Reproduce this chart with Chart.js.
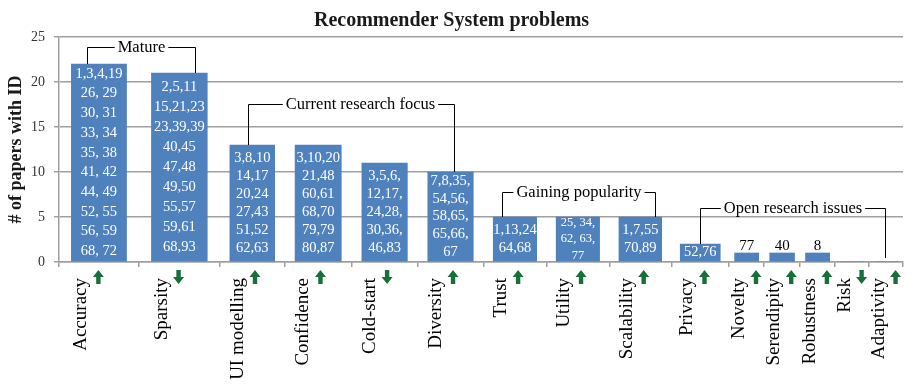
<!DOCTYPE html>
<html>
<head>
<meta charset="utf-8">
<script src="https://cdn.jsdelivr.net/npm/chart.js@4.4.0/dist/chart.umd.min.js"></script>
<style>
  html, body { margin: 0; padding: 0; background: #fff; }
</style>
</head>
<body>
<canvas id="myChart" width="917" height="389"></canvas>
<script>
const categories = ['Accuracy', 'Sparsity', 'UI modelling', 'Confidence', 'Cold-start', 'Diversity', 'Trust',
  'Utility', 'Scalability', 'Privacy', 'Novelty', 'Serendipity', 'Robustness', 'Risk', 'Adaptivity'];
const paperCounts = [22, 21, 13, 13, 11, 10, 5, 5, 5, 2, 1, 1, 1, 0, 0];
const paperIds = [
  ['1,3,4,19', '26, 29', '30, 31', '33, 34', '35, 38', '41, 42', '44, 49', '52, 55', '56, 59', '68, 72'],
  ['2,5,11', '15,21,23', '23,39,39', '40,45', '47,48', '49,50', '55,57', '59,61', '68,93'],
  ['3,8,10', '14,17', '20,24', '27,43', '51,52', '62,63'],
  ['3,10,20', '21,48', '60,61', '68,70', '79,79', '80,87'],
  ['3,5,6,', '12,17,', '24,28,', '30,36,', '46,83'],
  ['7,8,35,', '54,56,', '58,65,', '65,66,', '67'],
  ['1,13,24', '64,68'],
  ['25, 34,', '62, 63,', '77'],
  ['1,7,55', '70,89'],
  ['52,76'],
  ['77'],
  ['40'],
  ['8'],
  [],
  []
];
const trend = ['up', 'down', 'up', 'up', 'down', 'up', 'up', 'up', 'up', 'up', 'up', 'up', 'up', 'down', 'up'];
const groupNames = ['Mature', 'Current research focus', 'Gaining popularity', 'Open research issues'];
const groupFirst = [0, 2, 6, 9];
const groupLast = [1, 5, 8, 14];

// layout only: the slots are not all the same width in the original
const slotWidths = [80, 81, 65, 67, 66, 66, 63, 63, 62, 58, 35, 36, 35, 34, 34];
const barShare = 0.69;
const bracketLevel = [23.9, 17.55, 7.8, 6.0];
const bracketFrom = [0.28, 0.4, 0.2, 0.5];
const bracketTo = [0.78, 0.58, 0.84, 0.45];
const bracketShift = [0, 9, 0, 0];

const serif = "'Liberation Serif', 'Times New Roman', serif";
const gridColor = '#a0a0a0';

const edges = [0];
slotWidths.forEach(w => edges.push(edges[edges.length - 1] + w));
const total = edges[edges.length - 1];
const centers = slotWidths.map((w, i) => edges[i] + w / 2);
const labelPos = slotWidths.map((w, i) => centers[i] - 0.22 * w);

const datasets = categories.map((c, i) => ({
  label: c,
  data: [{x: centers[i], y: paperCounts[i]}],
  backgroundColor: '#4f81bd',
  borderWidth: 0,
  grouped: false,
  barThickness: 10   // real width is set after layout
}));

const extras = {
  id: 'extras',
  afterLayout(chart) {
    const x = chart.scales.x;
    chart.data.datasets.forEach((ds, i) => {
      ds.barThickness = (x.getPixelForValue(slotWidths[i]) - x.getPixelForValue(0)) * barShare;
    });
  },
  afterDatasetsDraw(chart) {
    const ctx = chart.ctx;
    const y = chart.scales.y;
    ctx.save();
    ctx.textAlign = 'center';
    ctx.textBaseline = 'middle';

    // paper ids written in the bars
    chart.data.datasets.forEach((ds, i) => {
      const bar = chart.getDatasetMeta(i).data[0];
      const lines = paperIds[i];
      if (!bar || !lines.length) return;
      const h = bar.base - bar.y;
      const n = lines.length;
      if (h < 14) {
        ctx.fillStyle = '#000';
        ctx.font = '15px ' + serif;
        ctx.fillText(lines[0], bar.x, bar.y - 7);
        return;
      }
      const lh = Math.max(16.5, Math.min(h / n, n >= 9 ? 20 : 18));
      ctx.font = (h / n < 17 ? 12.5 : 14.5) + 'px ' + serif;
      ctx.fillStyle = '#fff';
      const mid = (bar.y + bar.base) / 2;
      lines.forEach((t, k) => ctx.fillText(t, bar.x, mid + (k - (n - 1) / 2) * lh));
    });

    // group brackets
    ctx.strokeStyle = '#000';
    ctx.lineWidth = 1;
    ctx.fillStyle = '#000';
    ctx.font = '16.5px ' + serif;
    const floor = y.getPixelForValue(0.45);
    groupNames.forEach((name, g) => {
      const a = chart.getDatasetMeta(groupFirst[g]).data[0];
      const b = chart.getDatasetMeta(groupLast[g]).data[0];
      const x1 = Math.round(a.x - a.width / 2 + bracketFrom[g] * a.width) + 0.5;
      const x2 = Math.round(b.x - b.width / 2 + bracketTo[g] * b.width) + 0.5;
      const ly = Math.round(y.getPixelForValue(bracketLevel[g])) + 0.5;
      const tw = ctx.measureText(name).width;
      const tx = (x1 + x2) / 2 + bracketShift[g];
      ctx.beginPath();
      ctx.moveTo(x1, Math.min(a.y, floor));
      ctx.lineTo(x1, ly);
      ctx.lineTo(tx - tw / 2 - 3, ly);
      ctx.moveTo(tx + tw / 2 + 3, ly);
      ctx.lineTo(x2, ly);
      ctx.lineTo(x2, Math.min(b.y, floor));
      ctx.stroke();
      ctx.fillText(name, tx, ly);
    });

    // trend arrows next to the category names
    const xl = chart.scales.xl;
    ctx.fillStyle = '#17703a';
    trend.forEach((t, i) => {
      const cx = xl.getPixelForValue(labelPos[i]) + 17;
      const top = xl.top + 3;
      const bot = xl.top + 17;
      const tip = t === 'up' ? top : bot;
      const tail = t === 'up' ? bot : top;
      const neck = t === 'up' ? top + 7 : bot - 7;
      ctx.beginPath();
      ctx.moveTo(cx, tip);
      ctx.lineTo(cx + 5.5, neck);
      ctx.lineTo(cx + 2.2, neck);
      ctx.lineTo(cx + 2.2, tail);
      ctx.lineTo(cx - 2.2, tail);
      ctx.lineTo(cx - 2.2, neck);
      ctx.lineTo(cx - 5.5, neck);
      ctx.closePath();
      ctx.fill();
    });
    ctx.restore();
  }
};

const ctx = document.getElementById('myChart').getContext('2d');
const myChart = new Chart(ctx, {
  type: 'bar',
  data: { datasets: datasets },
  plugins: [extras],
  options: {
    responsive: false,
    animation: false,
    layout: { padding: { left: 0, right: 14, top: 0, bottom: 0 } },
    plugins: {
      legend: { display: false },
      tooltip: { enabled: false },
      title: {
        display: true,
        text: 'Recommender System problems',
        color: '#1a1a1a',
        font: { family: serif, size: 20, weight: 'bold' },
        padding: { top: 9, bottom: 4 }
      }
    },
    scales: {
      x: {
        type: 'linear',
        position: 'bottom',
        weight: 0,
        min: 0,
        max: total,
        offset: false,
        afterBuildTicks: ax => { ax.ticks = edges.map(v => ({ value: v })); },
        ticks: { display: false },
        grid: { display: true, offset: false, drawOnChartArea: false, drawTicks: true, tickLength: 5, color: gridColor, lineWidth: 1.5 },
        border: { display: true, color: gridColor, width: 1.5 }
      },
      xl: {
        type: 'linear',
        position: 'bottom',
        weight: 1,
        min: 0,
        max: total,
        offset: false,
        afterBuildTicks: ax => { ax.ticks = labelPos.map(v => ({ value: v })); },
        afterFit: ax => { ax.height = 122; },
        ticks: {
          autoSkip: false,
          minRotation: 90,
          maxRotation: 90,
          padding: 3,
          color: '#000',
          font: { family: serif, size: 19 },
          callback: (v, i) => categories[i]
        },
        grid: { display: false, offset: false },
        border: { display: false }
      },
      y: {
        min: 0,
        max: 25,
        afterFit: ax => { ax.width = 59; },
        ticks: { stepSize: 5, padding: 9, color: '#333', font: { family: serif, size: 14 } },
        grid: { color: gridColor, lineWidth: 1.5, tickLength: 5 },
        border: { color: gridColor, width: 1.5 },
        title: {
          display: true,
          text: '# of papers with ID',
          color: '#1a1a1a',
          font: { family: serif, size: 18, weight: 'bold' },
          padding: { top: 6, bottom: 0 }
        }
      }
    }
  }
});
</script>
</body>
</html>
